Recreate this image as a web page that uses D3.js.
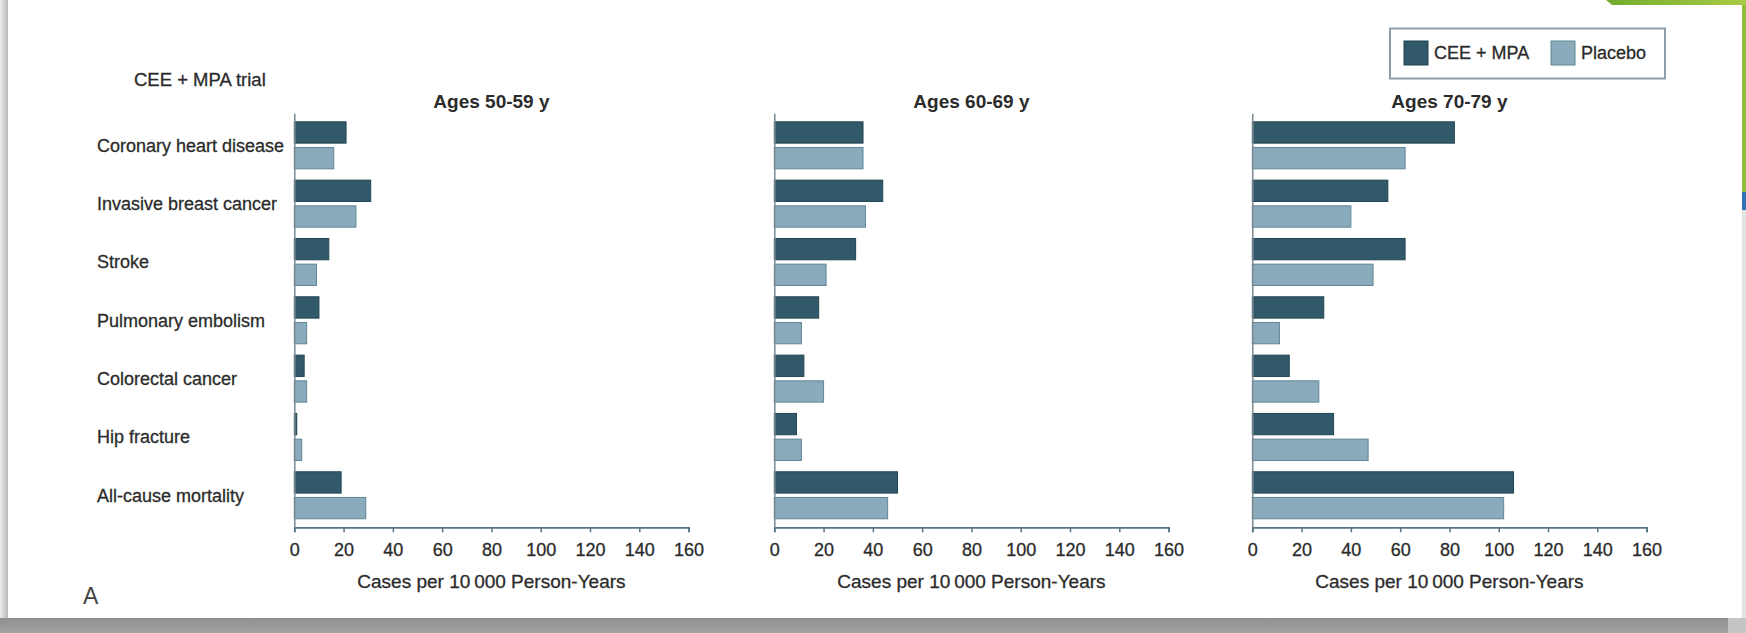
<!DOCTYPE html>
<html>
<head>
<meta charset="utf-8">
<script src="https://cdn.jsdelivr.net/npm/d3@7"></script>
<style>
  html, body { margin: 0; padding: 0; background: #ffffff; }
  svg { display: block; }
  text { font-family: "Liberation Sans", Arial, sans-serif; fill: #2b2b2b; stroke: #2b2b2b; stroke-width: 0.3px; }
</style>
</head>
<body>
<script>
// Absolute risk of clinical outcomes in the CEE + MPA trial, by age group
const categories = [
  "Coronary heart disease",
  "Invasive breast cancer",
  "Stroke",
  "Pulmonary embolism",
  "Colorectal cancer",
  "Hip fracture",
  "All-cause mortality"
];
const seriesNames = ["CEE + MPA", "Placebo"];
const ageGroups = ["Ages 50-59 y", "Ages 60-69 y", "Ages 70-79 y"];

// Cases per 10 000 person-years
const ceeMpa50 = [21, 31, 14, 10, 4, 1, 19];
const placebo50 = [16, 25, 9, 5, 5, 3, 29];
const ceeMpa60 = [36, 44, 33, 18, 12, 9, 50];
const placebo60 = [36, 37, 21, 11, 20, 11, 46];
const ceeMpa70 = [82, 55, 62, 29, 15, 33, 106];
const placebo70 = [62, 40, 49, 11, 27, 47, 102];

const xTicks = [0, 20, 40, 60, 80, 100, 120, 140, 160];
const xTitle = "Cases per 10\u2009000 Person-Years";
const trialLabel = "CEE + MPA trial";
const panelLetter = "A";

const panelValues = [
  [ceeMpa50, placebo50],
  [ceeMpa60, placebo60],
  [ceeMpa70, placebo70]
];

const W = 1746, H = 633;
const colors = { "CEE + MPA": "#31596a", "Placebo": "#8aabbb" };
const strokes = { "CEE + MPA": "#234552", "Placebo": "#5f8696" };

const svg = d3.select("body").append("svg")
  .attr("width", W).attr("height", H)
  .attr("viewBox", `0 0 ${W} ${H}`);

// ---- page card and its edges ----
const defs = svg.append("defs");
const lg = defs.append("linearGradient").attr("id", "leftShade").attr("x1", 0).attr("x2", 1);
lg.append("stop").attr("offset", 0).attr("stop-color", "#ececec");
lg.append("stop").attr("offset", 1).attr("stop-color", "#b9b9b9");
const bg = defs.append("linearGradient").attr("id", "bottomShade").attr("x1", 0).attr("x2", 0).attr("y1", 0).attr("y2", 1);
bg.append("stop").attr("offset", 0).attr("stop-color", "#8f8f8f");
bg.append("stop").attr("offset", 1).attr("stop-color", "#a3a3a3");
const gg = defs.append("linearGradient").attr("id", "greenBar").attr("x1", 0).attr("x2", 1);
gg.append("stop").attr("offset", 0).attr("stop-color", "#72ac2e");
gg.append("stop").attr("offset", 1).attr("stop-color", "#a9cb45");

svg.append("rect").attr("width", W).attr("height", H).attr("fill", "#ffffff");
svg.append("rect").attr("x", 0).attr("y", 0).attr("width", 8).attr("height", 620).attr("fill", "url(#leftShade)");
svg.append("rect").attr("x", 0).attr("y", 618).attr("width", W).attr("height", 15).attr("fill", "url(#bottomShade)");
svg.append("rect").attr("x", 1728).attr("y", 618).attr("width", 18).attr("height", 15).attr("fill", "#c4c4c4");
svg.append("rect").attr("x", 1742).attr("y", 0).attr("width", 4).attr("height", 618).attr("fill", "#e3e3e3");
svg.append("rect").attr("x", 1742).attr("y", 0).attr("width", 4).attr("height", 192).attr("fill", "#8fbf3a");
svg.append("rect").attr("x", 1742).attr("y", 192).attr("width", 4).attr("height", 18).attr("fill", "#2f73b5");
svg.append("path").attr("d", "M1606,0H1746V5H1612Z").attr("fill", "url(#greenBar)");

// ---- shared scales ----
const yTop = 113.3, yBottom = 527.3;
const y = d3.scaleBand().domain(categories).range([yTop, yBottom])
  .paddingInner(0.194).paddingOuter(0.146);
const ySub = d3.scaleBand().domain(seriesNames).range([0, y.bandwidth()]).paddingInner(0.17);

const panelLeft = [294.3, 774.3, 1252.3];
const panelWidth = 394.3;

// ---- header texts ----
svg.append("text").attr("x", 134).attr("y", 86)
  .style("font-size", "18.5px").text(trialLabel);

svg.append("text").attr("x", 83).attr("y", 604)
  .style("font-size", "23px").style("fill", "#444").style("stroke", "none").text(panelLetter);

// ---- category labels ----
svg.append("g").selectAll("text").data(categories).join("text")
  .attr("x", 97)
  .attr("y", d => y(d) + y.bandwidth() / 2)
  .attr("dy", "0.36em")
  .style("font-size", "18px")
  .text(d => d);

// ---- panels ----
ageGroups.forEach((age, i) => {
  const x = d3.scaleLinear().domain([0, 160]).range([panelLeft[i], panelLeft[i] + panelWidth]);
  const g = svg.append("g");
  const rows = categories.map((c, k) => ({
    cat: c,
    vals: seriesNames.map((s, j) => ({ series: s, value: panelValues[i][j][k] }))
  }));

  const grp = g.selectAll("g.row").data(rows).join("g")
    .attr("class", "row")
    .attr("transform", d => `translate(0,${y(d.cat)})`);
  grp.selectAll("rect").data(d => d.vals).join("rect")
    .attr("x", x(0))
    .attr("y", d => ySub(d.series))
    .attr("width", d => x(d.value) - x(0))
    .attr("height", ySub.bandwidth())
    .attr("fill", d => colors[d.series])
    .attr("stroke", d => strokes[d.series])
    .attr("stroke-width", 1);

  // x axis
  const xa = g.append("g")
    .attr("transform", `translate(0,${yBottom})`)
    .call(d3.axisBottom(x).tickValues(xTicks).tickSize(5).tickPadding(11));
  xa.select(".domain").attr("stroke", "#557582").attr("stroke-width", 1.7);
  xa.selectAll(".tick line").attr("stroke", "#557582").attr("stroke-width", 1.5);
  xa.selectAll(".tick text")
    .style("font-size", "18px").style("font-family", "\"Liberation Sans\", Arial, sans-serif")
    .attr("fill", "#2b2b2b");

  // y axis line
  const ya = g.append("g")
    .attr("transform", `translate(${x(0)},0)`)
    .call(d3.axisLeft(y).tickSize(0).tickFormat(""));
  ya.select(".domain").attr("stroke", "#7a8a91").attr("stroke-width", 1.5);

  // panel title
  g.append("text")
    .attr("x", x(80)).attr("y", 108)
    .attr("text-anchor", "middle")
    .style("font-size", "19px").style("font-weight", "bold").style("stroke", "none")
    .text(age);

  // axis title
  g.append("text")
    .attr("x", x(80)).attr("y", 587.5)
    .attr("text-anchor", "middle")
    .style("font-size", "19px")
    .text(xTitle);
});

// ---- legend ----
const legend = svg.append("g");
legend.append("rect")
  .attr("x", 1390).attr("y", 28.5).attr("width", 275).attr("height", 50)
  .attr("fill", "#ffffff").attr("stroke", "#8c9ea8").attr("stroke-width", 2);
const legendX = [1404, 1551];
seriesNames.forEach((s, j) => {
  legend.append("rect")
    .attr("x", legendX[j]).attr("y", 41).attr("width", 24).attr("height", 24)
    .attr("fill", colors[s]).attr("stroke", strokes[s]).attr("stroke-width", 1);
  legend.append("text")
    .attr("x", legendX[j] + 30).attr("y", 53).attr("dy", "0.36em")
    .style("font-size", "18px")
    .text(s);
});
</script>
</body>
</html>
